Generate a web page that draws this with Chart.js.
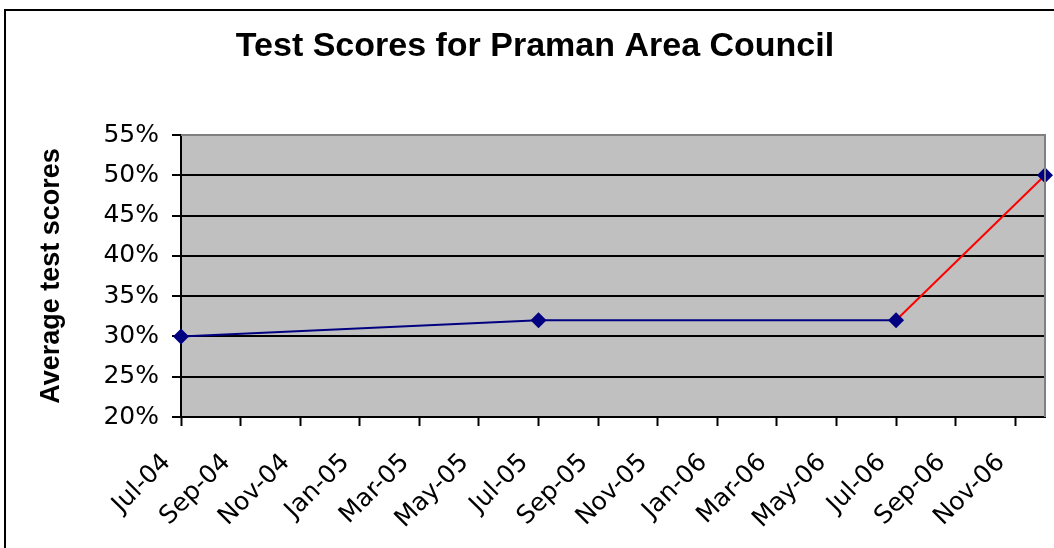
<!DOCTYPE html>
<html>
<head>
<meta charset="utf-8">
<script src="https://cdn.jsdelivr.net/npm/chart.js@4"></script>
<style>
    html, body { margin: 0; padding: 0; background: #fff; overflow: hidden; }
    #wrap  { position: relative; width: 1054px; height: 548px; }
    #frame { position: absolute; left: 4px; top: 9px; width: 1100px; height: 600px; border: 2px solid #000; }
    canvas { position: absolute; left: 0; top: 0; }
</style>
</head>
<body>
<div id="wrap">
    <div id="frame"></div>
    <canvas id="scoreChart" width="1054" height="548"></canvas>
</div>
<script>
// ── Данные
const tickLabels = ['Jul-04', 'Sep-04', 'Nov-04', 'Jan-05', 'Mar-05', 'May-05', 'Jul-05',
                    'Sep-05', 'Nov-05', 'Jan-06', 'Mar-06', 'May-06', 'Jul-06', 'Sep-06', 'Nov-06'];
const testDates  = ['2004-07', '2005-07', '2006-07', '2006-12'];
const scores     = [30, 32, 32, 50];
const yTicks     = [20, 25, 30, 35, 40, 45, 50, 55];

// месяцы от первой даты
function monthsFrom(start, d) {
    const [y0, m0] = start.split('-').map(Number);
    const [y1, m1] = d.split('-').map(Number);
    return (y1 - y0) * 12 + (m1 - m0);
}
const points = testDates.map((d, i) => ({ x: monthsFrom(testDates[0], d), y: scores[i] }));

const TICK_FONT = { family: 'DejaVu Sans', size: 25 };
const NAVY = '#000080';

// серый фон области графика + серая рамка сверху и справа
const plotBg = {
    id: 'plotBg',
    beforeDraw(chart) {
        const { ctx, chartArea: a } = chart;
        ctx.save();
        ctx.fillStyle = '#c0c0c0';
        ctx.fillRect(a.left, a.top, a.right - a.left, a.bottom - a.top);
        ctx.restore();
    },
    afterDatasetsDraw(chart) {
        const { ctx, chartArea: a } = chart;
        ctx.save();
        ctx.strokeStyle = '#808080';
        ctx.lineWidth = 2;
        ctx.beginPath();
        ctx.moveTo(a.left, a.top);
        ctx.lineTo(a.right, a.top);
        ctx.lineTo(a.right, a.bottom);
        ctx.stroke();
        ctx.restore();
    }
};

new Chart(document.getElementById('scoreChart').getContext('2d'), {
    type: 'line',
    data: {
        datasets: [{
            data:             points,
            borderColor:      NAVY,
            borderWidth:      2,
            pointStyle:       'rectRot',
            pointRadius:      8,
            pointBackgroundColor: NAVY,
            pointBorderColor: NAVY,
            pointBorderWidth: 0,
            tension:          0,
            clip:             false,
            segment: {
                borderColor: (ctx) => ctx.p0DataIndex === 2 ? '#ff0000' : NAVY
            }
        }]
    },
    options: {
        responsive: false,
        animation:  false,
        layout: { padding: { left: 25, right: 9, top: 0, bottom: 0 } },
        plugins: {
            legend:  { display: false },
            tooltip: { enabled: false },
            title: {
                display: true,
                text:    'Test Scores for Praman Area Council',
                color:   '#000',
                font:    { family: 'Liberation Sans', size: 34, weight: 'bold' },
                padding: { top: 26, bottom: 68.2 }
            }
        },
        scales: {
            x: {
                type: 'linear',
                min:  0,
                max:  29,
                afterFit: (s) => { s.height = 131; s.paddingLeft = 0; s.paddingRight = 0; },
                border: { color: '#000', width: 2 },
                grid: { drawOnChartArea: false, drawTicks: true, tickLength: 9, tickColor: '#000', tickWidth: 2 },
                ticks: {
                    stepSize:      2,
                    includeBounds: false,
                    autoSkip:      false,
                    maxRotation:   45,
                    minRotation:   45,
                    padding:       22,
                    labelOffset:   -14,
                    color:         '#000',
                    font:          TICK_FONT,
                    callback: (v) => tickLabels[v / 2] ?? ''
                }
            },
            y: {
                min: yTicks[0],
                max: yTicks[yTicks.length - 1],
                afterFit: (s) => { s.width = 156; s.paddingTop = 0; s.paddingBottom = 0; },
                border: { color: '#000', width: 2 },
                grid: {
                    color:     (c) => c.tick && c.tick.value === 55 ? 'rgba(0,0,0,0)' : '#000',
                    lineWidth: 2,
                    tickLength: 9,
                    tickColor: '#000',
                    tickWidth: 2
                },
                ticks: {
                    stepSize: 5,
                    padding:  13,
                    color:    '#000',
                    font:     TICK_FONT,
                    callback: (v) => v + '%'
                },
                title: {
                    display: true,
                    text:    'Average test scores',
                    color:   '#000',
                    font:    { family: 'Liberation Sans', size: 27, weight: 'bold' },
                    padding: { top: 10, bottom: 0 }
                }
            }
        }
    },
    plugins: [plotBg]
});
</script>
</body>
</html>
